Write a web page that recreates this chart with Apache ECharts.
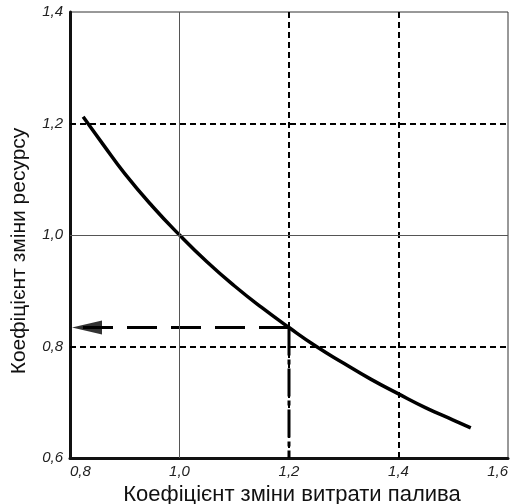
<!DOCTYPE html>
<html>
<head>
<meta charset="utf-8">
<script src="https://cdn.jsdelivr.net/npm/echarts@6/dist/echarts.min.js"></script>
<style>html,body{margin:0;padding:0;background:#fff}#c{width:522px;height:504px}</style>
</head>
<body>
<div id="c"></div>
<script>
// Data
var curveX = [0.824, 0.86, 0.9, 0.95, 1.0, 1.05, 1.1, 1.15, 1.2, 1.25, 1.3, 1.35, 1.4, 1.45, 1.5, 1.532];
var curveY = [1.212, 1.163, 1.11, 1.052, 1.0, 0.952, 0.909, 0.87, 0.834, 0.8, 0.77, 0.741, 0.715, 0.69, 0.668, 0.654];
var xTicks = [0.8, 1.0, 1.2, 1.4, 1.6];
var yTicks = [0.6, 0.8, 1.0, 1.2, 1.4];
var solidGridX = [1.0];
var dashedGridX = [1.2, 1.4];
var solidGridY = [1.0];
var dashedGridY = [0.8, 1.2];
var readX = 1.2;      // fuel consumption coefficient marked
var readY = 0.834;    // resulting resource coefficient
var xTitle = 'Коефіцієнт зміни витрати палива';
var yTitle = 'Коефіцієнт зміни ресурсу';

var fmt = function (v) { return v.toFixed(1).replace('.', ','); };
var curve = curveX.map(function (x, i) { return [x, curveY[i]]; });

var gridLines = [];
solidGridX.forEach(function (v) { gridLines.push({ xAxis: v, lineStyle: { color: '#555', width: 1, type: 'solid' } }); });
dashedGridX.forEach(function (v) { gridLines.push({ xAxis: v, lineStyle: { color: '#000', width: 2, type: [6, 4] } }); });
solidGridY.forEach(function (v) { gridLines.push({ yAxis: v, lineStyle: { color: '#555', width: 1, type: 'solid' } }); });
dashedGridY.forEach(function (v) { gridLines.push({ yAxis: v, lineStyle: { color: '#000', width: 2, type: [6, 4] } }); });

var labelStyle = { fontFamily: 'Liberation Sans, Arial, sans-serif', fontStyle: 'italic', fontSize: 15, color: '#222', formatter: fmt };

var chart = echarts.init(document.getElementById('c'), null, { renderer: 'canvas' });
chart.setOption({
  animation: false,
  backgroundColor: '#fff',
  grid: { left: 70, right: 14, top: 12, bottom: 46, containLabel: false, outerBoundsMode: 'none',
          show: true, borderColor: '#333', borderWidth: 1 },
  xAxis: {
    type: 'value', min: 0.8, max: 1.6, interval: 0.2,
    axisLine: { onZero: false, lineStyle: { color: '#111', width: 3 } },
    axisTick: { show: false },
    splitLine: { show: false },
    axisLabel: Object.assign({ margin: 6, alignMinLabel: 'left', alignMaxLabel: 'right' }, labelStyle),
    name: xTitle, nameLocation: 'middle', nameGap: 25,
    nameTextStyle: { fontFamily: 'Liberation Sans, Arial, sans-serif', fontSize: 22, color: '#111', padding: [0, 0, 0, 6] }
  },
  yAxis: {
    type: 'value', min: 0.6, max: 1.4, interval: 0.2,
    axisLine: { onZero: false, lineStyle: { color: '#111', width: 3 } },
    axisTick: { show: false },
    splitLine: { show: false },
    axisLabel: Object.assign({ margin: 7 }, labelStyle),
    name: yTitle, nameLocation: 'middle', nameGap: 40,
    nameTextStyle: { fontFamily: 'Liberation Sans, Arial, sans-serif', fontSize: 21, color: '#111', padding: [0, 32, 0, 0] }
  },
  series: [
    {
      type: 'line', data: [], silent: true,
      markLine: { silent: true, symbol: ['none', 'none'], label: { show: false }, data: gridLines }
    },
    {
      type: 'line', data: [[readX, readY], [xTicks[0], readY]], showSymbol: false, silent: true,
      lineStyle: { color: '#000', width: 3, type: [30, 14] }
    },
    {
      type: 'scatter', data: [[xTicks[0], readY]], symbol: 'triangle', symbolSize: [14, 30], symbolRotate: 90,
      symbolOffset: [17, 0], itemStyle: { color: '#000' }, silent: true, z: 5
    },
    {
      type: 'line', data: [[readX, readY], [readX, yTicks[0]]], showSymbol: false, silent: true,
      lineStyle: { color: '#000', width: 3, type: [28, 4, 5, 4] }
    },
    {
      type: 'line', data: curve, smooth: true, showSymbol: false, silent: true,
      lineStyle: { color: '#000', width: 3.5 }
    }
  ]
});
</script>
</body>
</html>
